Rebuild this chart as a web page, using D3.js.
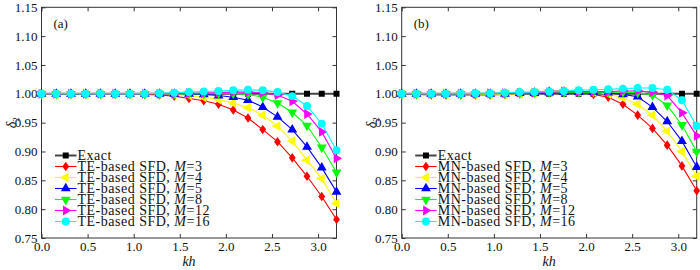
<!DOCTYPE html>
<html>
<head>
<meta charset="utf-8">
<script src="https://cdn.jsdelivr.net/npm/d3@7"></script>
<style>
  body { margin: 0; background: #fff; }
  svg text { font-family: "Liberation Serif", "Times New Roman", serif; }
</style>
</head>
<body>
<div id="chart"></div>
<script>
const kh = [0, 0.16, 0.32, 0.48, 0.64, 0.8, 0.96, 1.12, 1.28, 1.44, 1.6, 1.76, 1.92, 2.08, 2.24, 2.4, 2.56, 2.72, 2.88, 3.04, 3.2];
const xTicks = [0, 0.5, 1.0, 1.5, 2.0, 2.5, 3.0];
const yTicks = [0.75, 0.80, 0.85, 0.90, 0.95, 1.00, 1.05, 1.10, 1.15];
const mValues = [3, 4, 5, 8, 12, 16];

const exact = [1, 1, 1, 1, 1, 1, 1, 1, 1, 1, 1, 1, 1, 1, 1, 1, 1, 1, 1, 1, 1];

// panel (a): TE-based SFD
const teM3 = [1, 1, 1, 1, 1, 1, 1, 0.999, 0.998, 0.996, 0.992, 0.988, 0.982, 0.972, 0.958, 0.938, 0.917, 0.889, 0.857, 0.822, 0.782];
const teM4 = [1, 1, 1, 1, 1, 1, 1, 1, 1, 0.999, 0.997, 0.994, 0.990, 0.984, 0.976, 0.963, 0.944, 0.918, 0.885, 0.853, 0.810];
const teM5 = [1, 1, 1, 1, 1, 1, 1, 1, 1, 1, 1, 0.999, 0.997, 0.994, 0.989, 0.977, 0.960, 0.938, 0.908, 0.872, 0.830];
const teM8 = [1, 1, 1, 1, 1, 1, 1, 1, 1, 1, 1, 1, 1.001, 1.001, 0.999, 0.994, 0.984, 0.968, 0.945, 0.907, 0.864];
const teM12 = [1, 1, 1, 1, 1, 1, 1, 1, 1, 1, 1.001, 1.001, 1.002, 1.003, 1.003, 1.002, 0.998, 0.987, 0.965, 0.934, 0.888];
const teM16 = [1, 1, 1, 1, 1, 1, 1, 1, 1.001, 1.002, 1.003, 1.004, 1.005, 1.006, 1.007, 1.006, 1.003, 0.996, 0.979, 0.948, 0.902];

// panel (b): MN-based SFD
const mnM3 = [1, 0.999, 0.998, 0.998, 0.998, 0.998, 0.998, 0.999, 1.001, 1.003, 1.005, 1.005, 1.003, 0.999, 0.994, 0.982, 0.963, 0.940, 0.911, 0.875, 0.832];
const mnM4 = [1, 1, 1, 1, 1, 0.999, 0.999, 0.999, 1, 1.002, 1.003, 1.004, 1.004, 1.003, 1.000, 0.993, 0.982, 0.963, 0.935, 0.900, 0.857];
const mnM5 = [1, 1, 1, 1, 1, 1, 1, 1, 1.001, 1.001, 1.002, 1.003, 1.003, 1.003, 1.002, 0.999, 0.995, 0.977, 0.952, 0.918, 0.873];
const mnM8 = [1, 1, 1, 1, 1, 1, 1, 1.001, 1.001, 1.002, 1.003, 1.003, 1.003, 1.003, 1.003, 1.003, 1.002, 0.998, 0.980, 0.946, 0.900];
const mnM12 = [1, 1, 1, 1, 1, 1, 1.001, 1.001, 1.002, 1.002, 1.003, 1.004, 1.004, 1.004, 1.004, 1.005, 1.005, 1.003, 0.997, 0.967, 0.927];
const mnM16 = [1, 1, 1, 1, 1, 1.001, 1.001, 1.002, 1.003, 1.003, 1.004, 1.005, 1.006, 1.007, 1.008, 1.009, 1.010, 1.010, 1.007, 0.989, 0.944];

const colors = ["#000000", "#ff0000", "#ffff00", "#0000ff", "#00ff00", "#ff00ff", "#00ffff"];
const shapes = ["square", "diamond", "left", "up", "down", "right", "circle"];

const svg = d3.select("#chart").append("svg")
    .attr("width", 700)
    .attr("height", 270);

function markerPath(shape) {
    if (shape === "square") return d3.symbol(d3.symbolSquare, 36)();
    if (shape === "diamond") return "M0,-4.8L3.4,0L0,4.8L-3.4,0Z";
    if (shape === "circle") return d3.symbol(d3.symbolCircle, 50)();
    return d3.symbol(d3.symbolTriangle, 42)();
}
function markerRot(shape) {
    if (shape === "left") return -90;
    if (shape === "right") return 90;
    if (shape === "down") return 180;
    return 0;
}

function drawPanel(left, tag, prefix, seriesList) {
    const top = 7.3, bottom = 238, width = 295;
    const x = d3.scaleLinear().domain([0, 3.2]).range([left, left + width]);
    const y = d3.scaleLinear().domain([0.75, 1.15]).range([bottom, top]);
    const g = svg.append("g");

    // clip so markers/lines stay inside frame
    const clipId = "clip-" + tag;
    svg.append("clipPath").attr("id", clipId)
        .append("rect").attr("x", left - 5).attr("y", top).attr("width", width + 10).attr("height", bottom - top);

    // axes with inward ticks on all four sides
    const axB = g.append("g").attr("transform", `translate(0,${bottom})`)
        .call(d3.axisBottom(x).tickValues(xTicks).tickFormat(d3.format(".1f")).tickSizeInner(-4).tickSizeOuter(0).tickPadding(4));
    const axT = g.append("g").attr("transform", `translate(0,${top})`)
        .call(d3.axisTop(x).tickValues(xTicks).tickFormat("").tickSizeInner(-4).tickSizeOuter(0));
    const axL = g.append("g").attr("transform", `translate(${left},0)`)
        .call(d3.axisLeft(y).tickValues(yTicks).tickFormat(d3.format(".2f")).tickSizeInner(-4).tickSizeOuter(0).tickPadding(4));
    const axR = g.append("g").attr("transform", `translate(${left + width},0)`)
        .call(d3.axisRight(y).tickValues(yTicks).tickFormat("").tickSizeInner(-4).tickSizeOuter(0));
    [axB, axT, axL, axR].forEach(a => {
        a.select(".domain").remove();
        a.selectAll("line").attr("stroke", "#333");
        a.selectAll("text").attr("font-size", 13).attr("fill", "#111")
            .style("font-family", '"Liberation Serif", serif');
    });
    axB.selectAll("text").attr("dy", "0.71em");

    g.append("rect")
        .attr("x", left).attr("y", top)
        .attr("width", width).attr("height", bottom - top)
        .attr("fill", "none").attr("stroke", "#333").attr("stroke-width", 1);

    const plot = g.append("g").attr("clip-path", `url(#${clipId})`);
    const line = d3.line().x((d, i) => x(kh[i])).y(d => y(d));

    seriesList.forEach((vals, k) => {
        const sg = plot.append("g");
        sg.append("path")
            .attr("d", line(vals))
            .attr("fill", "none")
            .attr("stroke", k === 0 ? "#444" : colors[k])
            .attr("stroke-width", k === 0 ? 2 : 1.1);
        sg.selectAll("path.m")
            .data(vals)
            .enter().append("path")
            .attr("class", "m")
            .attr("d", markerPath(shapes[k]))
            .attr("transform", (d, i) => `translate(${x(kh[i])},${y(d)}) rotate(${markerRot(shapes[k])})`)
            .attr("fill", colors[k]);
    });

    // panel tag
    g.append("text")
        .attr("x", left + 12).attr("y", 28)
        .attr("font-size", 13).attr("fill", "#111")
        .text(`(${tag})`);

    // x label
    g.append("text")
        .attr("x", left + width / 2).attr("y", 266)
        .attr("text-anchor", "middle")
        .attr("font-size", 14).attr("font-style", "italic").attr("fill", "#111")
        .text("kh");

    // y label
    const yl = g.append("text")
        .attr("transform", `translate(${left - 26},${(top + bottom) / 2}) rotate(-90)`)
        .attr("text-anchor", "middle")
        .attr("font-size", 14).attr("fill", "#111");
    yl.append("tspan").attr("font-style", "italic").text("δ");
    yl.append("tspan").attr("font-size", 9).attr("dy", 3).text("2");

    // legend
    const leg = g.append("g");
    const labels = ["Exact"].concat(mValues.map(m => m));
    labels.forEach((lab, k) => {
        const cy = 155.5 + k * 11;
        const lx0 = left + 13.5, lx1 = left + 35;
        leg.append("line")
            .attr("x1", lx0).attr("x2", lx1).attr("y1", cy).attr("y2", cy)
            .attr("stroke", k === 0 ? "#444" : colors[k])
            .attr("stroke-width", k === 0 ? 2 : 1.1);
        leg.append("path")
            .attr("d", markerPath(shapes[k]))
            .attr("transform", `translate(${(lx0 + lx1) / 2},${cy}) rotate(${markerRot(shapes[k])})`)
            .attr("fill", colors[k]);
        const t = leg.append("text")
            .attr("x", lx1 + 1).attr("y", cy + 4.5)
            .attr("font-size", 14).attr("letter-spacing", 0.5).attr("fill", "#111");
        if (k === 0) {
            t.text("Exact");
        } else {
            t.append("tspan").text(`${prefix}-based SFD, `);
            t.append("tspan").attr("font-style", "italic").text("M");
            t.append("tspan").text(`=${lab}`);
        }
    });
}

drawPanel(41.5, "a", "TE", [exact, teM3, teM4, teM5, teM8, teM12, teM16]);
drawPanel(401.7, "b", "MN", [exact, mnM3, mnM4, mnM5, mnM8, mnM12, mnM16]);
</script>
</body>
</html>
